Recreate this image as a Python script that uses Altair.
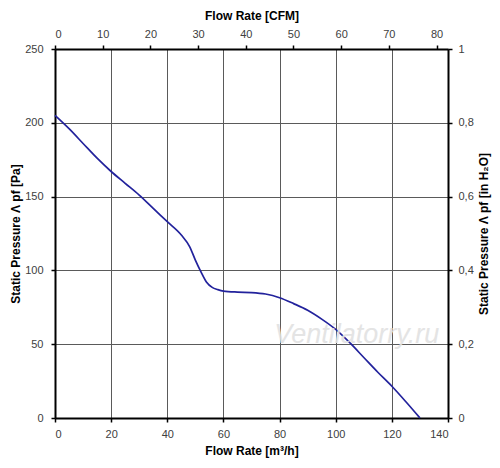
import altair as alt
import pandas as pd

# Curve: flow [m3/h] vs static pressure [Pa]
flow_m3h = [0, 5, 10, 15, 20, 25, 30, 35, 40, 45, 48, 50, 52, 54, 56, 58, 60, 65, 70, 75,
            80, 85, 90, 95, 100, 105, 110, 115, 120, 125, 130]
pressure_pa = [205, 196, 186, 176, 167, 159, 151, 142, 133, 124, 116, 107, 99, 92, 88.5, 87,
               86, 85.3, 85, 84, 81.5, 77.5, 73, 67, 60, 51, 41, 31, 21.5, 11, 0]

bottom_ticks = [0, 20, 40, 60, 80, 100, 120, 140]
left_ticks = [0, 50, 100, 150, 200, 250]
top_ticks = [0, 10, 20, 30, 40, 50, 60, 70, 80]
right_ticks = [0, 0.2, 0.4, 0.6, 0.8, 1]

M3H_PER_CFM = 1.699
PA_PER_INH2O = 250.0

df = pd.DataFrame({"q": flow_m3h, "p": pressure_pa})
df["cfm"] = df["q"] / M3H_PER_CFM
df["inh2o"] = df["p"] / PA_PER_INH2O

wm = pd.DataFrame({"q": [107.5], "p": [56], "t": ["Ventilatorry.ru"]})

FONT = "Liberation Sans"
LBL = "#404040"

axis_common = dict(
    domainColor="black", domainWidth=2, tickColor="black", tickWidth=1.5, tickSize=4,
    labelFont=FONT, labelFontSize=11, labelColor=LBL,
    titleFont=FONT, titleFontSize=12, titleFontWeight="bold", titleColor="black",
)

line = alt.Chart(df).mark_line(color="#22229c", strokeWidth=1.7, interpolate="monotone").encode(
    x=alt.X("q:Q", scale=alt.Scale(domain=[0, 140], nice=False, zero=False),
            axis=alt.Axis(orient="bottom", values=bottom_ticks, title="Flow Rate [m³/h]",
                          grid=True, gridColor="#5a5a5a", gridWidth=1, labelPadding=6,
                          titlePadding=6, **axis_common)),
    y=alt.Y("p:Q", scale=alt.Scale(domain=[0, 250], nice=False),
            axis=alt.Axis(orient="left", values=left_ticks, title="Static Pressure Λ pf [Pa]",
                          grid=True, gridColor="#5a5a5a", gridWidth=1, labelPadding=8,
                          titlePadding=2, **axis_common)),
)

watermark = alt.Chart(wm).mark_text(
    font=FONT, fontSize=27, fontStyle="italic", color="#e2e2e2", opacity=0.9
).encode(x="q:Q", y="p:Q", text="t:N")

base_layer = alt.layer(line, watermark)

right_expr = ("datum.value == 0 || datum.value == 1 ? format(datum.value, 'd') : "
              "replace(format(datum.value, '.1f'), '.', ',')")

ghost = alt.Chart(df).mark_point(opacity=0).encode(
    x=alt.X("cfm:Q", scale=alt.Scale(domain=[0, 140 / M3H_PER_CFM], nice=False, zero=False),
            axis=alt.Axis(orient="top", values=top_ticks, title="Flow Rate [CFM]",
                          grid=False, labelPadding=6, titlePadding=6, **axis_common)),
    y=alt.Y("inh2o:Q", scale=alt.Scale(domain=[0, 1], nice=False),
            axis=alt.Axis(orient="right", values=right_ticks, title="Static Pressure Λ pf [in H₂O]",
                          grid=False, labelExpr=right_expr, labelPadding=6, titlePadding=17,
                          titleAngle=270, **axis_common)),
)

chart = alt.layer(base_layer, ghost).resolve_scale(x="independent", y="independent").properties(
    width=393, height=369,
    autosize=alt.AutoSizeParams(type="none"),
    padding={"left": 47, "top": 41, "right": 44, "bottom": 42},
    background="white",
).configure_view(strokeWidth=0)

chart.save("out.html", embed_options={"renderer": "svg", "actions": False})
